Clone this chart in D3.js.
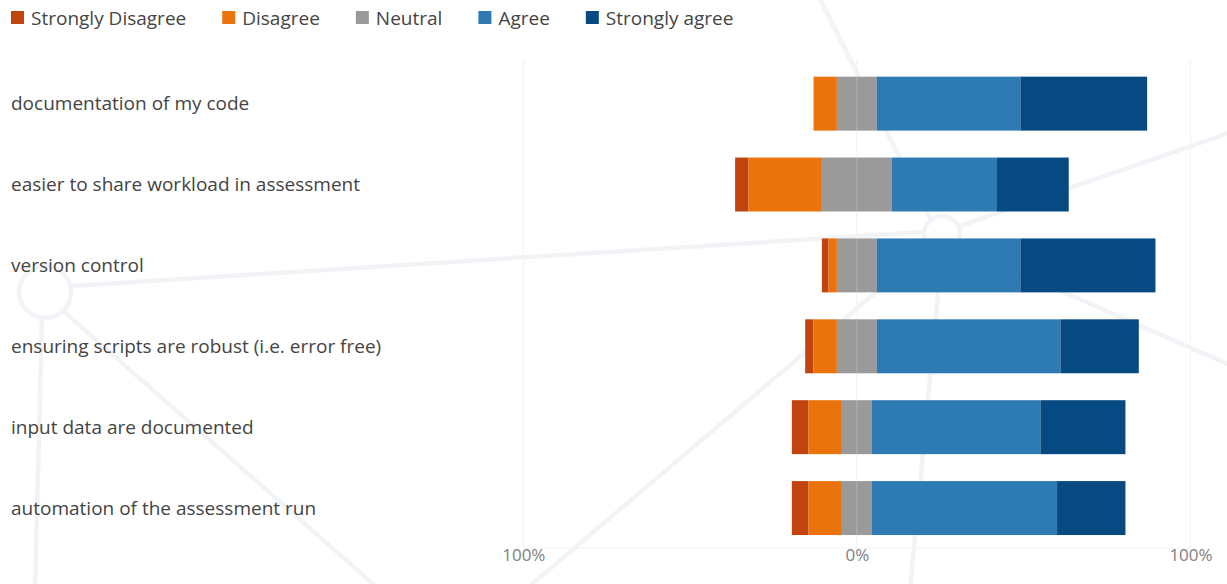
<!DOCTYPE html>
<html>
<head>
<meta charset="utf-8">
<script src="https://cdn.jsdelivr.net/npm/d3@7/dist/d3.min.js"></script>
<style>
  html, body { margin: 0; padding: 0; background: #ffffff; }
  svg { display: block; }
  text { font-family: "Open Sans", "Noto Sans", sans-serif; }
</style>
</head>
<body>
<svg id="chart" width="1227" height="584"></svg>
<script>
// Survey statements (top to bottom)
const categories = [
  "documentation of my code",
  "easier to share workload in assessment",
  "version control",
  "ensuring scripts are robust (i.e. error free)",
  "input data are documented",
  "automation of the assessment run"
];

// Share of responses per statement, in percent
const stronglyDisagree = [0, 4, 2, 2.5, 5, 5];
const disagree         = [7, 22, 2.5, 7, 10, 10];
const neutral          = [12, 21, 12, 12, 9, 9];
const agree            = [43, 31.5, 43, 55, 50.5, 55.5];
const stronglyAgree    = [38, 21.5, 40.5, 23.5, 25.5, 20.5];

const responseLabels = ["Strongly Disagree", "Disagree", "Neutral", "Agree", "Strongly agree"];
const responseColors = ["#c1440e", "#ea730c", "#9a9a9a", "#2e7bb3", "#074a82"];

const tickValues = [-100, 0, 100];
const tickLabels = ["100%", "0%", "100%"];

const svg = d3.select("#chart");

const x = d3.scaleLinear().domain([-100, 100]).range([523.3, 1190.5]);
const y = d3.scaleBand().domain(categories).range([63.2, 548.5])
  .paddingInner(0.333).paddingOuter(0.1665);

// Faint decorative network in the background
const deco = svg.append("g")
  .attr("fill", "none")
  .attr("stroke", "#f2f3f7")
  .attr("stroke-width", 4.5)
  .attr("stroke-linecap", "round");
const decoLines = [
  [[72, 286], [924, 232]],
  [[818, -5], [930, 218]],
  [[960, 226], [1232, 132]],
  [[942, 252], [910, 590]],
  [[958, 246], [1232, 366]],
  [[928, 248], [525, 590]],
  [[62, 310], [380, 590]],
  [[42, 318], [35, 590]]
];
decoLines.forEach(([a, b]) => deco.append("line")
  .attr("x1", a[0]).attr("y1", a[1]).attr("x2", b[0]).attr("y2", b[1]));
deco.append("circle").attr("cx", 45).attr("cy", 292).attr("r", 26);
deco.append("circle").attr("cx", 942).attr("cy", 234).attr("r", 18);

// Gridlines
const grid = svg.append("g").attr("stroke", "#f3f3f3").attr("stroke-width", 1.2);
tickValues.forEach(v => grid.append("line")
  .attr("x1", x(v)).attr("x2", x(v)).attr("y1", 60).attr("y2", 548));
grid.append("line").attr("x1", x(-100)).attr("x2", x(100)).attr("y1", 548).attr("y2", 548);

// Diverging stacks: negative side grows left from half the neutral share
const series = [stronglyDisagree, disagree, neutral, agree, stronglyAgree];
const segments = [];
categories.forEach((cat, i) => {
  const sd = stronglyDisagree[i], d = disagree[i], n = neutral[i];
  let start = -(sd + d + n / 2);
  series.forEach((s, k) => {
    const v = s[i];
    segments.push({ cat, k, x0: start, x1: start + v });
    start += v;
  });
});

svg.append("g").selectAll("rect")
  .data(segments.filter(s => s.x1 > s.x0))
  .join("rect")
  .attr("x", d => x(d.x0))
  .attr("width", d => x(d.x1) - x(d.x0))
  .attr("y", d => y(d.cat))
  .attr("height", y.bandwidth())
  .attr("fill", d => responseColors[d.k]);

// Zero line showing through the neutral block
svg.append("g").selectAll("line")
  .data(categories)
  .join("line")
  .attr("x1", x(0)).attr("x2", x(0))
  .attr("y1", d => y(d)).attr("y2", d => y(d) + y.bandwidth())
  .attr("stroke", "rgba(255,255,255,0.25)")
  .attr("stroke-width", 1);

// Category labels
svg.append("g").selectAll("text")
  .data(categories)
  .join("text")
  .attr("x", 11)
  .attr("y", d => y(d) + y.bandwidth() / 2)
  .attr("dy", "0.35em")
  .attr("font-size", 19)
  .attr("fill", "#444444")
  .text(d => d);

// Bottom axis labels
const xAxis = d3.axisBottom(x).tickValues(tickValues)
  .tickFormat((d, i) => tickLabels[i]).tickSize(0).tickPadding(0);
const axisG = svg.append("g").attr("transform", "translate(0,549)").call(xAxis);
axisG.select(".domain").remove();
axisG.selectAll("text")
  .attr("font-family", "\"Open Sans\", \"Noto Sans\", sans-serif")
  .attr("font-size", 17)
  .attr("fill", "#808080")
  .attr("dy", "0.71em");

// Legend
const legend = svg.append("g");
let lx = 11;
responseLabels.forEach((label, k) => {
  legend.append("rect")
    .attr("x", lx).attr("y", 11).attr("width", 13).attr("height", 13)
    .attr("fill", responseColors[k]);
  const t = legend.append("text")
    .attr("x", lx + 20).attr("y", 18).attr("dy", "0.35em")
    .attr("font-size", 19).attr("fill", "#444444")
    .text(label);
  lx += 20 + t.node().getComputedTextLength() + 36;
});
</script>
</body>
</html>
